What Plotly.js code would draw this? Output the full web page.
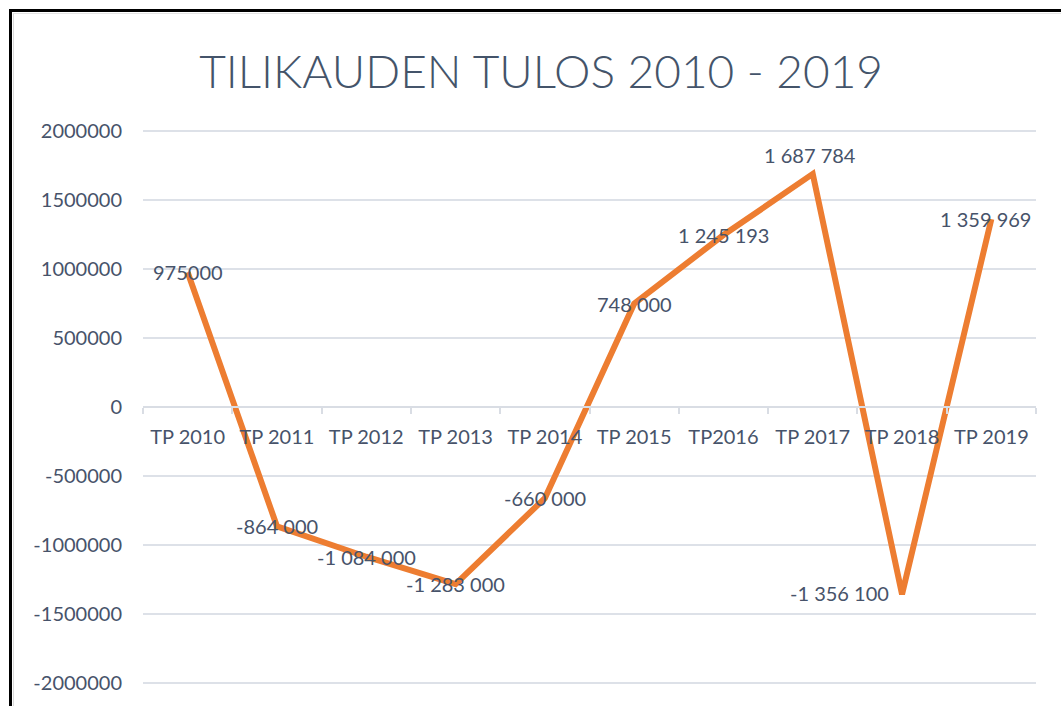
<!DOCTYPE html>
<html>
<head>
<meta charset="utf-8">
<script src="https://cdn.plot.ly/plotly-3.0.1.min.js"></script>
<style>
  html, body { margin: 0; padding: 0; background: #ffffff; overflow: hidden; }
  #chart { position: absolute; left: 0; top: 0; width: 1061px; height: 706px; }
  #frame { position: absolute; left: 9px; top: 9px; width: 1200px; height: 900px;
           border-left: 3px solid #000; border-top: 3px solid #000; pointer-events: none; }
  #inner { position: absolute; left: 13px; top: 13px; width: 1200px; height: 900px;
           border-left: 1px solid #d9d9d9; border-top: 1px solid #e4e4e4; pointer-events: none; }
</style>
</head>
<body>
<div id="chart"></div>
<div id="inner"></div>
<div id="frame"></div>
<script>
const categories = ["TP 2010", "TP 2011", "TP 2012", "TP 2013", "TP 2014", "TP 2015", "TP2016", "TP 2017", "TP 2018", "TP 2019"];
const results = [975000, -864000, -1084000, -1283000, -660000, 748000, 1245193, 1687784, -1356100, 1359969];
const dataLabels = ["975000", "-864 000", "-1 084 000", "-1 283 000", "-660 000", "748 000", "1 245 193", "1 687 784", "-1 356 100", "1 359 969"];
// label placement relative to the point: "center", "above" or "left"
const labelPlacement = ["center", "center", "center", "center", "center", "center", "center", "above", "left", "center"];
const yTickVals = [-2000000, -1500000, -1000000, -500000, 0, 500000, 1000000, 1500000, 2000000];
const yTickText = ["-2000000", "-1500000", "-1000000", "-500000", "0", "500000", "1000000", "1500000", "2000000"];

const textColor = "#47536a";
const fontFamily = "Lato, 'Open Sans', sans-serif";

const trace = {
  type: "scatter",
  mode: "lines",
  x: categories,
  y: results,
  line: { color: "#ed7d31", width: 6 },
  cliponaxis: false,
  hoverinfo: "x+y"
};

const annotations = categories.map((c, i) => {
  const p = labelPlacement[i];
  const a = {
    x: c, y: results[i], xref: "x", yref: "y",
    text: dataLabels[i], showarrow: false,
    font: { family: fontFamily, size: 20, color: textColor },
    xanchor: "center", yanchor: "middle", yshift: 0
  };
  if (p === "above") { a.yanchor = "bottom"; a.yshift = 5; a.xshift = -3; }
  if (p === "left") { a.xanchor = "right"; a.xshift = -11; a.yshift = 1; }
  if (i === 9) { a.xshift = -6; }
  return a;
});

const layout = {
  width: 1061,
  height: 706,
  margin: { l: 143, r: 25, t: 128, b: 20 },
  paper_bgcolor: "#ffffff",
  plot_bgcolor: "#ffffff",
  showlegend: false,
  annotations: annotations,
  title: {
    text: "TILIKAUDEN TULOS 2010 - 2019",
    font: { family: fontFamily, size: 46, color: "#44546a", weight: 300 },
    xref: "container", x: 0.51, xanchor: "center",
    yref: "container", y: 1 - 72 / 706, yanchor: "middle"
  },
  xaxis: {
    type: "category",
    range: [-0.5, 9.5],
    autorange: false,
    anchor: "free",
    position: 0.5,
    showline: true,
    linecolor: "#d9dde4",
    linewidth: 2,
    ticks: "outside",
    tickson: "boundaries",
    ticklen: 6,
    tickwidth: 2,
    tickcolor: "#d9dde4",
    showgrid: false,
    zeroline: false,
    tickfont: { family: fontFamily, size: 20, color: textColor },
    ticklabelstandoff: 12,
    fixedrange: true
  },
  yaxis: {
    range: [-2020000, 2020000],
    autorange: false,
    tickvals: yTickVals,
    ticktext: yTickText,
    showgrid: true,
    gridcolor: "#dde1e8",
    gridwidth: 2,
    zeroline: false,
    showline: false,
    ticks: "",
    tickfont: { family: fontFamily, size: 20, color: textColor },
    ticklabelstandoff: 20,
    fixedrange: true
  }
};

Plotly.newPlot("chart", [trace], layout, { displayModeBar: false, staticPlot: true });
</script>
</body>
</html>
